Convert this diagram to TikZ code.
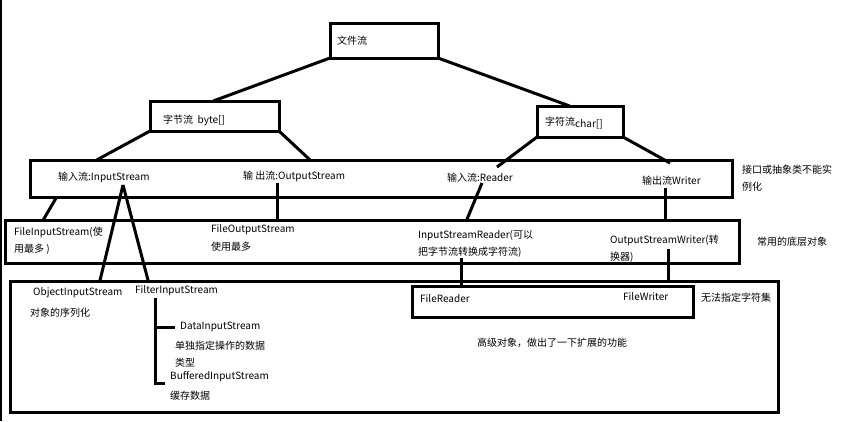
\documentclass[tikz,border=0pt]{standalone}
\usepackage{fontspec}
\setmainfont{Noto Sans CJK SC}
\usetikzlibrary{calc}

\tikzset{
  box/.style={draw, line width=3pt, anchor=north west, inner sep=0pt, outer sep=0pt},
  lbl/.style={anchor=west, align=left, inner sep=0pt, font=\fontsize{10}{17.5}\selectfont},
  link/.style={line width=3pt},
}

\begin{document}
\begin{tikzpicture}[x=1pt,y=-1pt]
  % Boundary
  \fill[white] (0,0) rectangle (863,421);
  \path[use as bounding box] (0,0) rectangle (863,421);
  \draw[line width=2pt] (1,0) -- (1,421);
  % Boxes
  \node[box, minimum width=108, minimum height=35] (file) at (330,23) {};
  \node[box, minimum width=129, minimum height=30] (byte) at (150,101) {};
  \node[box, minimum width=86, minimum height=31] (char) at (537,106) {};
  \node[box, minimum width=702, minimum height=37] (iface) at (30,160) {};
  \node[box, minimum width=734, minimum height=43] (base) at (5,220) {};
  \node[box, minimum width=768, minimum height=131] (adv) at (10,281) {};
  \node[box, minimum width=281, minimum height=31] (fr) at (412,286) {};
  % Labels
  \node[lbl] (tFile) at (337,41) {文件流};
  \node[lbl] (tByte) at (163,120) {字节流\ \ byte[]};
  \node[lbl] (tChar) at (545,123) {字符流\raisebox{-1.5pt}{char[]}};
  \node[lbl] (tIn) at (58,177) {输入流:InputStream};
  \node[lbl] (tOut) at (243,176) {输\ 出流:OutputStream};
  \node[lbl] (tReader) at (447,178) {输入流:Reader};
  \node[lbl] (tWriter) at (642,181) {输出流Writer};
  \node[lbl] (tNote1) at (742,178) {接口或抽象类不能实\\例化};
  \node[lbl] (tFis) at (14,241) {FileInputStream(使\\用最多 )};
  \node[lbl] (tFos) at (211,238) {FileOutputStream\\使用最多};
  \node[lbl] (tIsr) at (418,244) {InputStreamReader(可以\\把字节流转换成字符流)};
  \node[lbl] (tOsw) at (610,249) {OutputStreamWriter(转\\换器)};
  \node[lbl] (tNote2) at (757,242) {常用的底层对象};
  \node[lbl] (tOis) at (33,293) {ObjectInputStream};
  \node[lbl] (tOisNote) at (30,313) {对象的序列化};
  \node[lbl] (tFilter) at (135,291) {FilterInputStream};
  \node[lbl] (tDis) at (180,327) {DataInputStream};
  \node[lbl] (tDisNote) at (175,354) {单独指定操作的数据\\类型};
  \node[lbl] (tBis) at (170,377) {BufferedInputStream};
  \node[lbl] (tBisNote) at (170,396) {缓存数据};
  \node[lbl] (tFr) at (420,299) {FileReader};
  \node[lbl] (tFw) at (623,297) {FileWriter};
  \node[lbl] (tNote3) at (701,298) {无法指定字符集};
  \node[lbl] (tAdv) at (477,343) {高级对象，做出了一下扩展的功能};
  % Free ends
  \coordinate (rdTop) at (497,167);
  \coordinate (wrTop) at (670,163);
  \coordinate (inApex) at (123,185);
  \coordinate (outFoot) at (277,183);
  \coordinate (rdFoot) at (482,183);
  \coordinate (wrFoot) at (665,188);
  \coordinate (isrFoot) at (461,258);
  \coordinate (oswFoot) at (668,249);
  \coordinate (fltTop) at (155,298);
  \coordinate (fltBot) at (155,383);
  % Tree links
  \draw[link] (file.south west) -- ($(byte.north west)!0.49!(byte.north east)$);
  \draw[link] (file.south east) -- ($(char.north west)!0.38!(char.north east)$);
  \draw[link] (byte.south west) -- ($(iface.north west)!0.095!(iface.north east)$);
  \draw[link] (byte.south east) -- ($(iface.north west)!0.399!(iface.north east)$);
  \draw[link] (char.south west) -- (rdTop);
  \draw[link] (char.south east) -- (wrTop);
  \draw[link] ($(iface.south west)!0.038!(iface.south east)$) -- ($(base.north west)!0.052!(base.north east)$);
  \draw[link] (inApex) -- ($(adv.north west)!0.117!(adv.north east)$);
  \draw[link] (inApex) -- ($(adv.north west)!0.18!(adv.north east)$);
  \draw[link] (outFoot) -- (outFoot |- base.north);
  \draw[link] (rdFoot) -- ($(base.north west)!0.629!(base.north east)$);
  \draw[link] (wrFoot) -- (wrFoot |- base.north);
  \draw[link] (isrFoot) -- (isrFoot |- fr.north);
  \draw[link] (oswFoot) -- (oswFoot |- adv.north);
  % Filter bracket
  \draw[link] (fltTop) -- (fltBot) -- ++(10,0);
  \draw[link] (fltTop |- tDis.west) -- ++(20,0);
\end{tikzpicture}
\end{document}
